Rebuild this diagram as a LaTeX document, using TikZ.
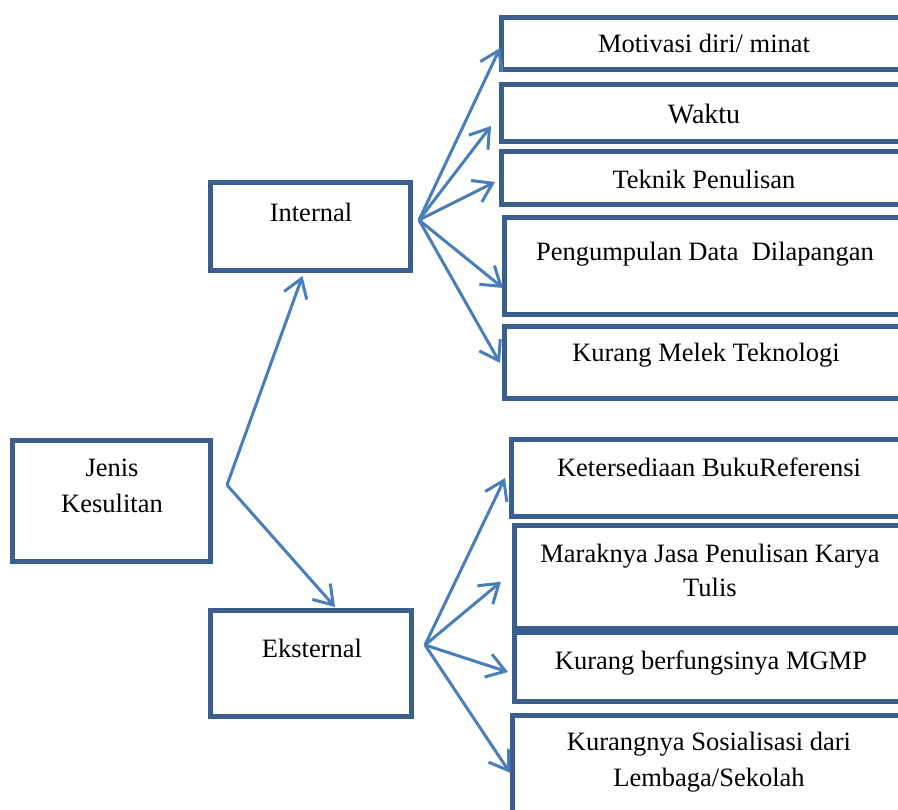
\documentclass[tikz,border=0pt]{standalone}
\usepackage{fontspec}
\setmainfont{Liberation Serif}
\usetikzlibrary{arrows.meta,calc}
\definecolor{boxblue}{HTML}{3A5F8E}
\definecolor{arrblue}{HTML}{4A7EBB}
\tikzset{
  box/.style={draw=boxblue, line width=5pt, rectangle, inner sep=0pt, outer sep=0pt, fill=white},
  lbl/.style={anchor=base, inner sep=0pt, font=\fontsize{26.5}{32}\selectfont, text=black},
  arr/.style={draw=arrblue, line width=3pt, -{Straight Barb[length=18pt,width=24pt]}}
}
\begin{document}
\begin{tikzpicture}[x=1pt,y=-1pt]
\useasboundingbox (0,0) rectangle (898,810);
\clip (0,0) rectangle (898,810);
\fill[white] (0,0) rectangle (898,810);
% left boxes
\node[box, minimum width=198pt, minimum height=121pt] (jen) at (111.5,501) {};
\node[box, minimum width=200pt, minimum height=88pt] (int) at (310.5,226.5) {};
\node[box, minimum width=201pt, minimum height=106pt] (eks) at (311,663.5) {};
% right boxes (internal)
\node[box, minimum width=413.5pt, minimum height=52pt] (mot) at (708.25,43.5) {};
\node[box, minimum width=413.5pt, minimum height=57pt] (wak) at (708.25,113) {};
\node[box, minimum width=413.5pt, minimum height=53pt] (tek) at (708.25,178) {};
\node[box, minimum width=410.5pt, minimum height=97pt] (pen) at (709.75,266) {};
\node[box, minimum width=410.5pt, minimum height=72pt] (kml) at (709.75,362.5) {};
% right boxes (external)
\node[box, minimum width=403.5pt, minimum height=77pt] (ket) at (713.25,478) {};
\node[box, minimum width=400.5pt, minimum height=102.5pt] (mar) at (714.75,576.75) {};
\node[box, minimum width=400.5pt, minimum height=69pt] (kbm) at (714.75,667) {};
\node[box, minimum width=402.5pt, minimum height=114.5pt] (kso) at (713.75,772.75) {};
% labels
\node[lbl] (tjen1) at (112,477) {Jenis};
\node[lbl] (tjen2) at (112,512) {Kesulitan};
\node[lbl] (tint) at (311,222) {Internal};
\node[lbl] (teks) at (312,657) {Eksternal};
\node[lbl] (tmot) at (704,53) {Motivasi diri/ minat};
\node[lbl, font=\fontsize{28}{32}\selectfont] (twak) at (704,124) {Waktu};
\node[lbl] (ttek) at (704,189) {Teknik Penulisan};
\node[lbl] (tpen) at (705,261) {Pengumpulan Data\ \ Dilapangan};
\node[lbl] (tkml) at (706,362) {Kurang Melek Teknologi};
\node[lbl] (tket) at (709,477) {Ketersediaan BukuReferensi};
\node[lbl] (tmar1) at (710,562) {Maraknya Jasa Penulisan Karya};
\node[lbl] (tmar2) at (710,596) {Tulis};
\node[lbl] (tkbm) at (711,669) {Kurang berfungsinya MGMP};
\node[lbl] (tkso1) at (709,750) {Kurangnya Sosialisasi dari};
\node[lbl] (tkso2) at (709,786) {Lembaga/Sekolah};
% hubs
\coordinate (hubJ) at (227,485);
\coordinate (hubI) at (419,220);
\coordinate (hubE) at (425,645);
% connectors
\draw[arr] (hubJ) -- ($(int.south)+(-8,5.5)$);
\draw[arr] (hubJ) -- ($(eks.north)+(24,-3.5)$);
\draw[arr] (hubI) -- ($(mot.west)+(-1.5,4.5)$);
\draw[arr] (hubI) -- ($(wak.west)+(-10.5,13)$);
\draw[arr] (hubI) -- ($(tek.west)+(-6.5,4)$);
\draw[arr] (hubI) -- ($(pen.west)+(-1.5,22)$);
\draw[arr] (hubI) -- ($(kml.west)+(-4.5,0.5)$);
\draw[arr] (hubE) -- ($(ket.west)+(-6.5,0)$);
\draw[arr] (hubE) -- ($(mar.west)+(-13.5,5)$);
\draw[arr] (hubE) -- ($(kbm.west)+(-6.5,5)$);
\draw[arr] (hubE) -- ($(kso.west)+(-2.5,0)$);
\end{tikzpicture}
\end{document}
